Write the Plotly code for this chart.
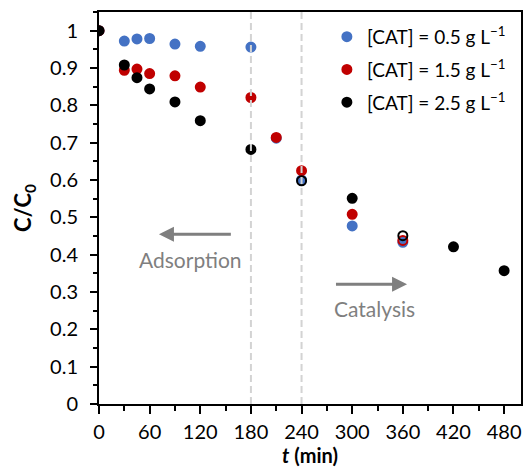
import plotly.graph_objects as go

# ---- data ----
t_blue = [0, 30, 45, 60, 90, 120, 180, 210, 240, 300, 360]
c_blue = [1.0, 0.972, 0.978, 0.979, 0.964, 0.958, 0.956, 0.712, 0.600, 0.477, 0.433]

t_red = [0, 30, 45, 60, 90, 120, 180, 210, 240, 300, 360]
c_red = [1.0, 0.894, 0.897, 0.885, 0.879, 0.849, 0.821, 0.714, 0.625, 0.508, 0.438]

t_black = [0, 30, 45, 60, 90, 120, 180, 240, 300, 360, 420, 480]
c_black = [1.0, 0.908, 0.874, 0.844, 0.809, 0.759, 0.682, 0.598, 0.551, 0.451, 0.421, 0.357]

names = ["[CAT] = 0.5 g L<sup>\u22121</sup>",
         "[CAT] = 1.5 g L<sup>\u22121</sup>",
         "[CAT] = 2.5 g L<sup>\u22121</sup>"]

x_ticks = [0, 60, 120, 180, 240, 300, 360, 420, 480]
y_ticks = [0, 0.1, 0.2, 0.3, 0.4, 0.5, 0.6, 0.7, 0.8, 0.9, 1.0]
y_labels = ["0", "0.1", "0.2", "0.3", "0.4", "0.5", "0.6", "0.7", "0.8", "0.9", "1"]
phase_lines = [180, 240]

FONT = "Lato"
colors = ["#4472C4", "#C00000", "#000000"]
hollow = [[], [360], [240, 360]]

fig = go.Figure()
for i, (t, c) in enumerate([(t_blue, c_blue), (t_red, c_red), (t_black, c_black)]):
    syms = ["circle-open" if tt in hollow[i] else "circle" for tt in t]
    fig.add_trace(go.Scatter(
        x=t, y=c, mode="markers", name=names[i], legendgroup=str(i),
        marker=dict(size=9, color=colors[i], symbol=syms,
                    line=dict(width=2, color=colors[i])),
    ))

for xv in phase_lines:
    fig.add_shape(type="line", x0=xv, x1=xv, y0=0, y1=1.05, xref="x", yref="y",
                  line=dict(color="#D3D3D3", width=2, dash="7px,4px"), layer="above")

grey = "#7F7F7F"
fig.add_annotation(x=71, y=0.455, ax=158, ay=0.455, xref="x", yref="y",
                   axref="x", ayref="y", showarrow=True, arrowhead=2,
                   arrowsize=1, arrowwidth=3, arrowcolor=grey, text="")
fig.add_annotation(x=365, y=0.321, ax=279, ay=0.321, xref="x", yref="y",
                   axref="x", ayref="y", showarrow=True, arrowhead=2,
                   arrowsize=1, arrowwidth=3, arrowcolor=grey, text="")
fig.add_annotation(x=108, y=0.388, xref="x", yref="y", text="Adsorption",
                   showarrow=False, font=dict(family=FONT, size=21, color=grey))
fig.add_annotation(x=327, y=0.257, xref="x", yref="y", text="Catalysis",
                   showarrow=False, font=dict(family=FONT, size=21, color=grey))

fig.update_layout(
    width=527, height=468,
    margin=dict(l=99, r=4, t=12, b=64),
    paper_bgcolor="white", plot_bgcolor="white",
    font=dict(family=FONT, size=20, color="black"),
    showlegend=True,
    legend=dict(x=0.54, y=0.985, xanchor="left", yanchor="top",
                bgcolor="rgba(0,0,0,0)", font=dict(size=19),
                tracegroupgap=5, itemwidth=30),
)
fig.update_xaxes(
    range=[0, 500], tickvals=x_ticks, ticks="outside", ticklen=8, tickwidth=2,
    tickcolor="black", showline=True, linewidth=2, linecolor="black", mirror=True,
    showgrid=False, zeroline=False, ticklabelstandoff=1,
    minor=dict(dtick=30, tick0=0, ticks="outside", ticklen=5, tickwidth=2, tickcolor="black"),
    title=dict(text="<b><i>t</i> (min)</b>", font=dict(size=20), standoff=6),
)
fig.update_yaxes(
    range=[0, 1.05], tickvals=y_ticks, ticktext=y_labels, ticks="outside", ticklen=7,
    tickwidth=2, tickcolor="black", showline=True, linewidth=2, linecolor="black",
    mirror=True, showgrid=False, zeroline=False, ticklabelstandoff=8,
    minor=dict(dtick=0.05, tick0=0, ticks="outside", ticklen=4, tickwidth=2, tickcolor="black"),
    title=dict(text="<b>C/C<sub>0</sub></b>", font=dict(size=22), standoff=12),
)

fig.write_html("out.html")
